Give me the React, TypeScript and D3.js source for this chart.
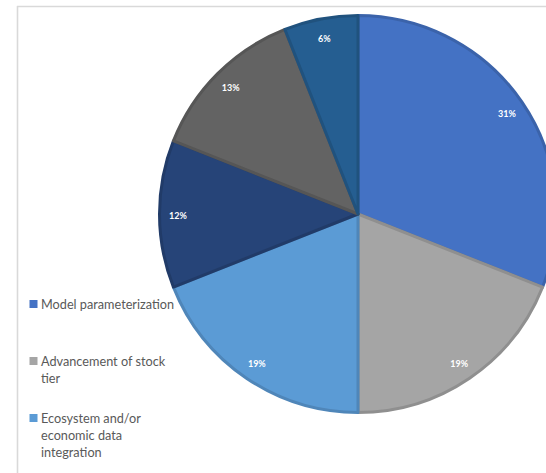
import React from "react";
import * as d3 from "d3";

const categories = [
  "Model parameterization",
  "Advancement of stock tier",
  "Ecosystem and/or economic data integration",
  "Category 4",
  "Category 5",
  "Category 6",
];
const values = [31, 19, 19, 12, 13, 6];
const colors = ["#4472C4", "#A5A5A5", "#5B9BD5", "#264478", "#636363", "#255E91"];
const legendLines = [
  ["Model parameterization"],
  ["Advancement of stock", "tier"],
  ["Ecosystem and/or", "economic data", "integration"],
];

const W = 546;
const H = 473;

export default function App() {
  const cx = 358;
  const cy = 214;
  const r = 200;
  const pie = d3.pie<number>().sort(null).value((d) => d)(values);
  const arc = d3.arc<d3.PieArcDatum<number>>().innerRadius(0).outerRadius(r - 1.5);
  const labelArc = d3.arc<d3.PieArcDatum<number>>().innerRadius(180).outerRadius(180);
  const total = d3.sum(values);
  const legendY = d3.scalePoint<number>().domain([0, 1, 2]).range([304, 418]);

  return (
    <svg
      width={W}
      height={H}
      style={{ position: "absolute", left: 0, top: 0, background: "#fff" }}
    >
      <line x1={17} y1={6.5} x2={W} y2={6.5} stroke="#D9D9D9" strokeWidth={1.6} />
      <line x1={17.5} y1={6} x2={17.5} y2={H} stroke="#D9D9D9" strokeWidth={1.6} />
      <g transform={`translate(${cx},${cy})`}>
        {pie.map((p, i) => (
          <path
            key={i}
            d={arc(p) || ""}
            fill={colors[i]}
            stroke={d3.color(colors[i])!.darker(0.4).toString()}
            strokeWidth={3}
            strokeLinejoin="round"
          />
        ))}
        {pie.map((p, i) => {
          const [x, y] = labelArc.centroid(p);
          return (
            <text
              key={"l" + i}
              x={x}
              y={y + 1}
              textAnchor="middle"
              dominantBaseline="central"
              fill="#fff"
              fontFamily="Lato, 'Open Sans', sans-serif"
              fontWeight="bold"
              fontSize={9}
            >
              {Math.round((values[i] / total) * 100)}%
            </text>
          );
        })}
      </g>
      {legendLines.map((lines, i) => (
        <g key={"lg" + i}>
          <rect x={29.5} y={legendY(i)! - 4} width={8} height={8} fill={colors[i]} />
          {lines.map((ln, j) => (
            <text
              key={j}
              x={41}
              y={legendY(i)! + j * 17}
              dominantBaseline="central"
              fill="#595959"
              fontFamily="Lato, 'Open Sans', sans-serif"
              fontSize={12.7}
            >
              {ln}
            </text>
          ))}
        </g>
      ))}
    </svg>
  );
}
